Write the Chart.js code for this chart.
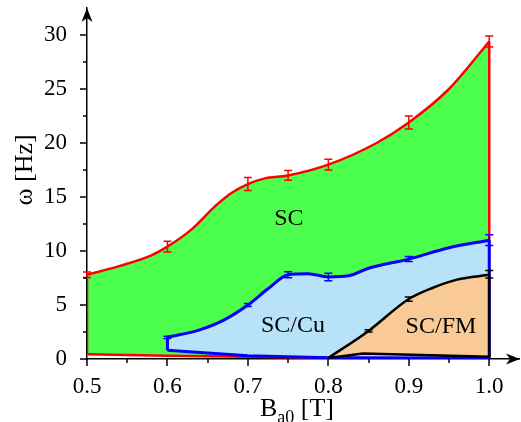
<!DOCTYPE html>
<html>
<head>
<meta charset="utf-8">
<script src="https://cdn.jsdelivr.net/npm/chart.js@4.4.1/dist/chart.umd.min.js"></script>
<style>
  html, body { margin: 0; padding: 0; background: #fff; }
</style>
</head>
<body>
<canvas id="chart" width="521" height="422"></canvas>
<script>
// SC region (red boundary)
const scTopX = [0.5, 0.54, 0.58, 0.6, 0.63, 0.66, 0.68, 0.7, 0.72, 0.75, 0.8, 0.86, 0.9, 0.95, 1.0];
const scTopY = [7.8, 8.6, 9.6, 10.4, 12.0, 14.2, 15.4, 16.2, 16.7, 17.0, 18.0, 20.0, 21.9, 25.0, 29.4];
const scBotX = [0.5, 0.6, 0.7, 0.8, 0.9, 1.0];
const scBotY = [0.45, 0.3, 0.2, 0.12, 0.1, 0.1];

// SC/Cu region (blue boundary)
const cuTopX = [0.6, 0.64, 0.67, 0.7, 0.725, 0.75, 0.775, 0.8, 0.825, 0.85, 0.9, 0.95, 1.0];
const cuTopY = [2.0, 2.7, 3.6, 5.0, 6.5, 7.8, 7.9, 7.6, 7.7, 8.4, 9.25, 10.3, 11.0];
const cuBotX = [0.6, 0.7, 0.8, 0.9, 1.0];
const cuBotY = [0.8, 0.3, 0.12, 0.1, 0.1];

// SC/FM region (black boundary)
const fmTopX = [0.8, 0.85, 0.9, 0.93, 0.96, 1.0];
const fmTopY = [0.1, 2.6, 5.55, 6.6, 7.35, 7.8];
const fmBotX = [0.8, 0.843, 1.0];
const fmBotY = [0.1, 0.5, 0.2];

// error bars
const scErrX = [0.5, 0.6, 0.7, 0.75, 0.8, 0.9, 1.0];
const scErrY = [7.8, 10.4, 16.2, 17.0, 18.0, 21.9, 29.4];
const scErr = [0.25, 0.5, 0.6, 0.45, 0.5, 0.6, 0.5];
const cuErrX = [0.6, 0.7, 0.75, 0.8, 0.9, 1.0];
const cuErrY = [2.0, 5.0, 7.8, 7.6, 9.25, 11.0];
const cuErr = [0.1, 0.15, 0.28, 0.35, 0.23, 0.5];
const fmErrX = [0.85, 0.9, 1.0];
const fmErrY = [2.6, 5.55, 7.85];
const fmErr = [0.1, 0.2, 0.35];

// ticks
const xTicks = [0.5, 0.6, 0.7, 0.8, 0.9, 1.0];
const xTickLabels = ["0.5", "0.6", "0.7", "0.8", "0.9", "1.0"];
const xMinor = [0.55, 0.65, 0.75, 0.85, 0.95];
const yTicks = [0, 5, 10, 15, 20, 25, 30];
const yMinor = [2.5, 7.5, 12.5, 17.5, 22.5, 27.5];

// region names
const regionNames = ["SC", "SC/Cu", "SC/FM"];
const regionX = [0.751, 0.756, 0.94];
const regionY = [13.0, 3.1, 3.0];

const serif = "'Liberation Serif', 'Times New Roman', serif";
Chart.defaults.font.family = serif;
Chart.defaults.color = "#000";

const RED = "#ff0000", BLUE = "#0000ff", BLACK = "#000000";

function pts(xs, ys) {
  return xs.map((x, i) => ({ x: x, y: ys[i] }));
}

function line(xs, ys, color, width, extra) {
  return Object.assign({
    data: pts(xs, ys),
    borderColor: color,
    borderWidth: width,
    pointRadius: 0,
    fill: false,
    tension: 0
  }, extra || {});
}

// first dataset is drawn on top
const datasets = [
  line(fmTopX, fmTopY, BLACK, 2.5, { fill: "+1", backgroundColor: "#f9c996", cubicInterpolationMode: "monotone" }),
  line(fmBotX, fmBotY, BLACK, 2.5),
  line([1, 1], [0.2, 7.8], BLACK, 2.5),
  line(cuTopX, cuTopY, BLUE, 3, { fill: "+1", backgroundColor: "#b8e2f8", cubicInterpolationMode: "monotone" }),
  line(cuBotX, cuBotY, BLUE, 3),
  line([0.6, 0.6], [0.8, 2.0], BLUE, 3),
  line([1, 1], [0.1, 11.0], BLUE, 3),
  line(scTopX, scTopY, RED, 2.5, { fill: "+1", backgroundColor: "#4dff4d", cubicInterpolationMode: "monotone" }),
  line(scBotX, scBotY, RED, 2.5),
  line([0.5, 0.5], [0.45, 7.8], RED, 2.5),
  line([1, 1], [0.1, 29.4], RED, 2.5)
];

const errorSets = [
  { x: fmErrX, y: fmErrY, e: fmErr, color: BLACK },
  { x: cuErrX, y: cuErrY, e: cuErr, color: BLUE },
  { x: scErrX, y: scErrY, e: scErr, color: RED }
];

function arrow(ctx, tipX, tipY, dx, dy) {
  const len = 14, half = 5.5, notch = 4;
  const nx = -dy, ny = dx;
  ctx.beginPath();
  ctx.moveTo(tipX, tipY);
  ctx.lineTo(tipX - dx * len + nx * half, tipY - dy * len + ny * half);
  ctx.lineTo(tipX - dx * (len - notch), tipY - dy * (len - notch));
  ctx.lineTo(tipX - dx * len - nx * half, tipY - dy * len - ny * half);
  ctx.closePath();
  ctx.fill();
}

const decor = {
  id: "decor",
  afterDatasetsDraw(chart) {
    const { ctx, scales: { x, y } } = chart;
    ctx.save();
    ctx.lineWidth = 1.5;
    errorSets.forEach(s => {
      ctx.strokeStyle = s.color;
      s.x.forEach((xv, i) => {
        const px = x.getPixelForValue(xv);
        const top = y.getPixelForValue(s.y[i] + s.e[i]);
        const bot = y.getPixelForValue(s.y[i] - s.e[i]);
        ctx.beginPath();
        ctx.moveTo(px, top); ctx.lineTo(px, bot);
        ctx.moveTo(px - 4, top); ctx.lineTo(px + 4, top);
        ctx.moveTo(px - 4, bot); ctx.lineTo(px + 4, bot);
        ctx.stroke();
      });
    });
    ctx.fillStyle = "#000";
    ctx.font = "24px " + serif;
    ctx.textAlign = "center";
    ctx.textBaseline = "middle";
    regionNames.forEach((t, i) => {
      ctx.fillText(t, x.getPixelForValue(regionX[i]), y.getPixelForValue(regionY[i]));
    });
    ctx.restore();
  },
  afterDraw(chart) {
    const { ctx, scales: { x, y }, chartArea: a } = chart;
    ctx.save();
    ctx.strokeStyle = "#000";
    ctx.fillStyle = "#000";
    ctx.lineWidth = 1.5;
    ctx.beginPath();
    yTicks.forEach(v => { const p = Math.round(y.getPixelForValue(v)); ctx.moveTo(a.left, p); ctx.lineTo(a.left - 7, p); });
    yMinor.forEach(v => { const p = Math.round(y.getPixelForValue(v)); ctx.moveTo(a.left, p); ctx.lineTo(a.left - 4, p); });
    xTicks.forEach(v => { const p = Math.round(x.getPixelForValue(v)); ctx.moveTo(p, a.bottom); ctx.lineTo(p, a.bottom + 7); });
    xMinor.forEach(v => { const p = Math.round(x.getPixelForValue(v)); ctx.moveTo(p, a.bottom); ctx.lineTo(p, a.bottom + 4); });
    ctx.stroke();

    arrow(ctx, a.left, a.top, 0, -1);
    arrow(ctx, a.right + 1, a.bottom, 1, 0);

    // axis titles
    ctx.font = "26px " + serif;
    ctx.textAlign = "center";
    ctx.textBaseline = "middle";
    ctx.save();
    ctx.translate(25, 170);
    ctx.rotate(-Math.PI / 2);
    ctx.fillText("ω [Hz]", 0, 0);
    ctx.restore();

    ctx.textAlign = "left";
    ctx.textBaseline = "alphabetic";
    const big = "26px " + serif, small = "18px " + serif;
    ctx.font = big; const wB = ctx.measureText("B").width; const wT = ctx.measureText(" [T]").width;
    ctx.font = small; const wS = ctx.measureText("a0").width;
    let sx = 297 - (wB + wS + wT) / 2;
    const base = 416;
    ctx.font = big; ctx.fillText("B", sx, base); sx += wB;
    ctx.font = small; ctx.fillText("a0", sx, base + 7); sx += wS;
    ctx.font = big; ctx.fillText(" [T]", sx, base);
    ctx.restore();
  }
};

new Chart(document.getElementById("chart"), {
  type: "line",
  data: { datasets: datasets },
  options: {
    responsive: false,
    animation: false,
    layout: { padding: { top: 8, right: 2, left: 0, bottom: 0 } },
    plugins: {
      legend: { display: false },
      tooltip: { enabled: false },
      filler: { drawTime: "beforeDatasetsDraw" }
    },
    scales: {
      x: {
        type: "linear",
        min: 0.5,
        max: 1.037,
        afterFit: s => { s.height = 63; s.paddingLeft = 0; s.paddingRight = 0; },
        afterBuildTicks: s => { s.ticks = xTicks.map(v => ({ value: v })); },
        grid: { display: false },
        border: { display: true, color: "#000", width: 1.5 },
        ticks: {
          padding: 6,
          maxRotation: 0,
          autoSkip: false,
          font: { size: 23 },
          callback: (v, i) => xTickLabels[i]
        }
      },
      y: {
        type: "linear",
        min: 0,
        max: 32.5,
        afterFit: s => { s.width = 87; s.paddingTop = 0; s.paddingBottom = 0; },
        afterBuildTicks: s => { s.ticks = yTicks.map(v => ({ value: v })); },
        grid: { display: false },
        border: { display: true, color: "#000", width: 1.5 },
        ticks: {
          padding: 12,
          autoSkip: false,
          font: { size: 23 },
          callback: v => String(v)
        }
      }
    }
  },
  plugins: [decor]
});
</script>
</body>
</html>
